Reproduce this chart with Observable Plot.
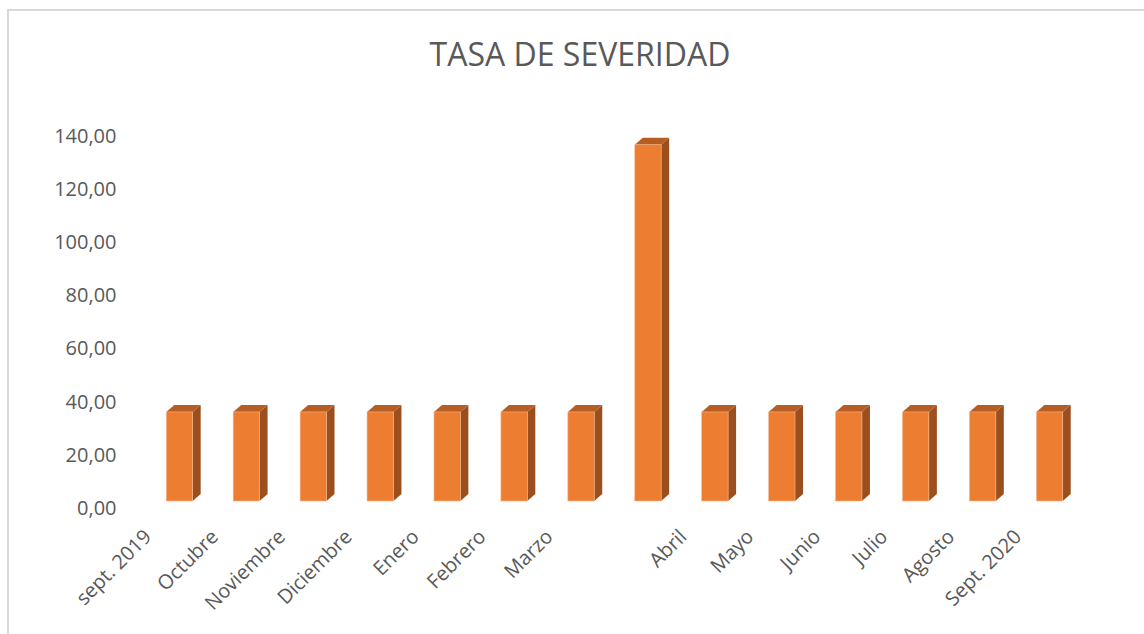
<!DOCTYPE html>
<html>
<head>
<meta charset="utf-8">
<script src="https://cdn.jsdelivr.net/npm/d3@7"></script>
<script src="https://cdn.jsdelivr.net/npm/@observablehq/plot@0.6"></script>
<style>
  html, body { margin: 0; padding: 0; background: #fff; overflow: hidden; width: 1144px; height: 634px; }
  #frame { position: absolute; left: 7px; top: 9px; width: 2000px; height: 2000px; border-left: 2px solid #d9d9d9; border-top: 2px solid #d9d9d9; box-sizing: border-box; }
  #title { position: absolute; left: 0; width: 1160px; top: 32px; text-align: center; font-family: "Open Sans", sans-serif; font-size: 32px; color: #595959; }
  #chart { position: absolute; left: 0; top: 0; }
</style>
</head>
<body>
<div id="frame"></div>
<div id="title">TASA DE SEVERIDAD</div>
<div id="chart"></div>
<script>
const categories = ["sept. 2019", "Octubre", "Noviembre", "Diciembre", "Enero", "Febrero", "Marzo", "", "Abril", "Mayo", "Junio", "Julio", "Agosto", "Sept. 2020"];
const values = [33.5, 33.5, 33.5, 33.5, 33.5, 33.5, 33.5, 134, 33.5, 33.5, 33.5, 33.5, 33.5, 33.5];
const yTicks = [0, 20, 40, 60, 80, 100, 120, 140];

const W = 1144, H = 634;
const mL = 146, mR = 61, mT = 128.8, mB = 133;
const pxPerX = (W - mL - mR) / categories.length;
const pxPerY = (H - mT - mB) / 140;
const halfW = 13.2 / pxPerX;     // half front width in x units
const dX = 8 / pxPerX;           // depth offset (x units)
const dY = 7 / pxPerY;           // depth offset (y units)

const data = categories.map((c, i) => ({i, c, v: values[i]}));
const topPts = data.flatMap(d => {
  const xl = d.i - halfW, xr = d.i + halfW;
  return [
    {i: d.i, x: xl, y1: d.v, y2: d.v},
    {i: d.i, x: xl + dX, y1: d.v, y2: d.v + dY},
    {i: d.i, x: xr, y1: d.v, y2: d.v + dY},
    {i: d.i, x: xr + dX, y1: d.v + dY, y2: d.v + dY}
  ];
});
const sidePts = data.flatMap(d => {
  const xr = d.i + halfW;
  return [
    {i: d.i, x: xr, y1: 0, y2: d.v},
    {i: d.i, x: xr + dX, y1: dY, y2: d.v + dY}
  ];
});

const fmt = v => d3.format(".2f")(v).replace(".", ",");

const plot = Plot.plot({
  width: W, height: H,
  marginLeft: mL, marginRight: mR, marginTop: mT, marginBottom: mB,
  style: {fontFamily: "Open Sans, sans-serif", fontSize: "20px", color: "#595959", background: "transparent"},
  x: {type: "linear", domain: [-0.5, categories.length - 0.5], axis: null},
  y: {domain: [0, 140], axis: null},
  marks: [
    Plot.text(yTicks, {x: -0.5, y: d => d, text: fmt, textAnchor: "end", dx: -30, dy: 7, fill: "#595959", fontSize: 20}),
    Plot.areaY(sidePts, {x: "x", y1: "y1", y2: "y2", z: "i", fill: "#9c4f1e"}),
    Plot.areaY(topPts, {x: "x", y1: "y1", y2: "y2", z: "i", fill: "#b65d24"}),
    Plot.rectY(data, {x1: d => d.i - halfW, x2: d => d.i + halfW, y1: 0, y2: "v", fill: "#ed7d31", stroke: "#f6b98f", strokeWidth: 0.6}),
    Plot.text(data, {x: "i", y: 0, text: "c", rotate: -45, textAnchor: "end", dx: -32, dy: 32, fill: "#595959", fontSize: 20})
  ]
});
document.getElementById("chart").appendChild(plot);
</script>
</body>
</html>
